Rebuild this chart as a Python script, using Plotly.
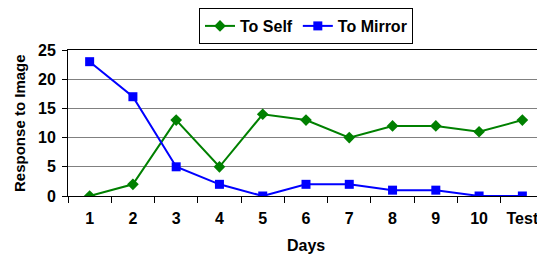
import plotly.graph_objects as go

days = ["1", "2", "3", "4", "5", "6", "7", "8", "9", "10", "Test"]
to_self = [0, 2, 13, 5, 14, 13, 10, 12, 12, 11, 13]
to_mirror = [23, 17, 5, 2, 0, 2, 2, 1, 1, 0, 0]

FAM = "Liberation Sans, Arial, sans-serif"

fig = go.Figure()
fig.add_trace(go.Scatter(x=days, y=to_self, name="To Self", mode="lines+markers",
                         line=dict(color="#008000", width=2),
                         marker=dict(symbol="diamond", size=9, color="#008000")))
fig.add_trace(go.Scatter(x=days, y=to_mirror, name="To Mirror", mode="lines+markers",
                         line=dict(color="#0000FF", width=2),
                         marker=dict(symbol="square", size=9, color="#0000FF")))

# The page body adds an 8px offset, so the figure is sized to fit the window.
fig.update_layout(
    width=537, height=248,
    margin=dict(l=60, r=1, t=42, b=60, autoexpand=False),
    paper_bgcolor="white", plot_bgcolor="white",
    font=dict(family=FAM, size=13, color="black"),
    showlegend=True,
    legend=dict(orientation="h", x=0.5, xanchor="center", y=1.0, yanchor="top",
                yref="container", bordercolor="black", borderwidth=1,
                font=dict(family=FAM, size=16, color="black", weight="bold"),
                tracegroupgap=0),
    xaxis=dict(type="category", tickson="boundaries", ticks="outside", ticklen=6,
               tickcolor="black", showline=True, linecolor="black", linewidth=1,
               mirror=True, showgrid=False, range=[-0.5, 10.5], automargin=False,
               ticklabelstandoff=8,
               tickfont=dict(size=16, weight="bold")),
    yaxis=dict(range=[0, 25], dtick=5, ticks="outside", ticklen=5, tickcolor="black",
               showline=True, linecolor="black", linewidth=1, mirror=True,
               showgrid=True, gridcolor="#808080", gridwidth=1, zeroline=False,
               automargin=False, ticklabelstandoff=3,
               tickfont=dict(size=16, weight="bold")),
    annotations=[
        dict(text="<b>Days</b>", xref="paper", yref="paper", x=0.5, y=-0.336,
             xanchor="center", yanchor="middle", showarrow=False,
             font=dict(family=FAM, size=16, color="black")),
        dict(text="<b>Response to Image</b>", xref="paper", yref="paper", x=-0.103, y=0.5,
             xanchor="center", yanchor="middle", showarrow=False, textangle=-90,
             font=dict(family=FAM, size=15, color="black")),
    ],
)

fig.write_html("out.html")
